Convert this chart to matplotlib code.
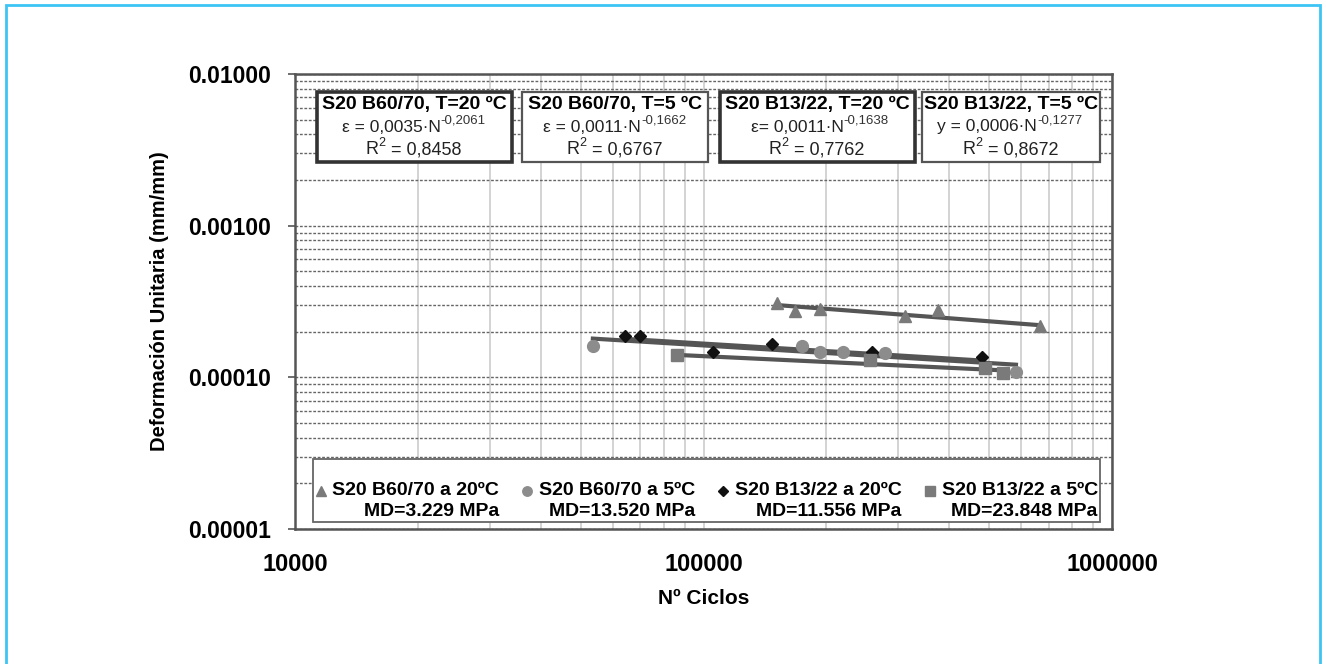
import numpy as np
import matplotlib.pyplot as plt
from matplotlib.lines import Line2D
from matplotlib.patches import Rectangle
from matplotlib.ticker import LogLocator, NullFormatter, FixedFormatter, FixedLocator

plt.rcParams['font.family'] = ['Liberation Sans', 'DejaVu Sans']

# fatigue test points: cycles N and unit strain
n_b6070_20 = [151000, 167500, 193000, 311000, 375000, 666000]
e_b6070_20 = [3.11e-4, 2.72e-4, 2.84e-4, 2.52e-4, 2.76e-4, 2.17e-4]

n_b6070_5 = [53600, 174200, 193000, 219600, 278000, 582000]
e_b6070_5 = [1.60e-4, 1.62e-4, 1.46e-4, 1.48e-4, 1.44e-4, 1.08e-4]

n_b1322_20 = [64200, 69900, 105500, 147000, 258500, 480000]
e_b1322_20 = [1.86e-4, 1.86e-4, 1.48e-4, 1.65e-4, 1.46e-4, 1.37e-4]

n_b1322_5 = [86100, 255600, 489000, 541000]
e_b1322_5 = [1.40e-4, 1.31e-4, 1.16e-4, 1.06e-4]

# power-law fits  eps = a * N^b
fit_a = [0.0035, 0.0011, 0.0011, 0.0006]
fit_b = [-0.2061, -0.1662, -0.1638, -0.1277]
fit_r2 = ['0,8458', '0,6767', '0,7762', '0,8672']
box_titles = ['S20 B60/70, T=20 ºC', 'S20 B60/70, T=5 ºC',
              'S20 B13/22, T=20 ºC', 'S20 B13/22, T=5 ºC']
eq_prefix = ['ε = 0,0035·N', 'ε = 0,0011·N', 'ε= 0,0011·N', 'y = 0,0006·N']
eq_exp = ['-0,2061', '-0,1662', '-0,1638', '-0,1277']

legend_names = ['S20 B60/70 a 20ºC', 'S20 B60/70 a 5ºC',
                'S20 B13/22 a 20ºC', 'S20 B13/22 a 5ºC']
legend_md = ['MD=3.229 MPa', 'MD=13.520 MPa', 'MD=11.556 MPa', 'MD=23.848 MPa']

y_ticks = [1e-5, 1e-4, 1e-3, 1e-2]
y_tick_labels = ['0.00001', '0.00010', '0.00100', '0.01000']
x_ticks = [1e4, 1e5, 1e6]
x_tick_labels = ['10000', '100000', '1000000']

series = [
    (n_b6070_20, e_b6070_20, '^', '#7a7a7a', 9),
    (n_b6070_5, e_b6070_5, 'o', '#8c8c8c', 8.5),
    (n_b1322_20, e_b1322_20, 'D', '#111111', 6.5),
    (n_b1322_5, e_b1322_5, 's', '#7a7a7a', 8.5),
]

fig = plt.figure(figsize=(13.26, 6.64), dpi=100)
ax = fig.add_axes([295 / 1326, 135 / 664, 817 / 1326, 455 / 664])

ax.set_xscale('log')
ax.set_yscale('log')
ax.set_xlim(1e4, 1e6)
ax.set_ylim(1e-5, 1e-2)

# grid: light solid verticals, dashed horizontals
ax.xaxis.set_minor_locator(LogLocator(base=10, subs=np.arange(2, 10)))
ax.yaxis.set_minor_locator(LogLocator(base=10, subs=np.arange(2, 10)))
ax.xaxis.set_minor_formatter(NullFormatter())
ax.yaxis.set_minor_formatter(NullFormatter())
ax.grid(True, axis='x', which='both', color='#d0d0d0', lw=1.3, ls='-')
ax.grid(True, axis='y', which='both', color='#666666', lw=1.0, ls=(0, (2, 1.2)))
ax.set_axisbelow(True)

ax.yaxis.set_major_locator(FixedLocator(y_ticks))
ax.yaxis.set_major_formatter(FixedFormatter(y_tick_labels))
ax.xaxis.set_major_locator(FixedLocator(x_ticks))
ax.xaxis.set_major_formatter(FixedFormatter(x_tick_labels))
ax.tick_params(axis='both', which='minor', length=0)
ax.tick_params(axis='x', which='major', length=0, pad=17, labelsize=17)
ax.tick_params(axis='y', which='major', length=5, width=1.2, color='#555555',
               pad=12, labelsize=16.5)
for lab in ax.get_xticklabels() + ax.get_yticklabels():
    lab.set_fontweight('bold')

for sp in ax.spines.values():
    sp.set_color('#555555')
    sp.set_linewidth(1.8)

handles = []
for (n, e, mk, col, ms), a, b in zip(series, fit_a, fit_b):
    ax.plot(n, e, ls='none', marker=mk, color=col, ms=ms, zorder=4)
    nn = np.geomspace(min(n), max(n), 50)
    ax.plot(nn, a * nn ** b, color='#555555', lw=3, zorder=3)
    handles.append(Line2D([], [], ls='none', marker=mk, color=col, ms=ms * 0.8))

# blank first line keeps the marker level with the series name
labels = ['\n' + nm + '\n' + md for nm, md in zip(legend_names, legend_md)]
leg = ax.legend(handles, labels, ncol=4, loc='lower left',
                bbox_to_anchor=(0.022, 0.015, 0.963, 0.15), mode='expand',
                borderaxespad=0, fancybox=False, framealpha=1,
                edgecolor='#666666', prop={'weight': 'bold', 'size': 14},
                handlelength=0.6, handletextpad=0.3, borderpad=0.1,
                columnspacing=0.5, labelspacing=0.1)
leg.get_frame().set_linewidth(1.3)
for t in leg.get_texts():
    t.set_multialignment('right')
    t.set_linespacing(1.3)

# fit annotation boxes along the top
box_x = [317, 522, 720, 922]
box_w = [195, 186, 195, 178]
box_lw = [2.6, 1.6, 2.6, 1.6]
box_ec = ['#333333', '#555555', '#333333', '#555555']
for i in range(4):
    x0 = (box_x[i] - 295) / 817
    w = box_w[i] / 817
    y0 = (529 - 162) / 455
    h = 70 / 455
    ax.add_patch(Rectangle((x0, y0), w, h, transform=ax.transAxes,
                           facecolor='white', edgecolor=box_ec[i],
                           lw=box_lw[i], zorder=5))
    cx = x0 + w / 2
    ax.text(cx, (529 - 104) / 455, box_titles[i], transform=ax.transAxes,
            ha='center', va='center', fontsize=14, fontweight='bold',
            zorder=6)
    eq = ax.text(cx + 26 / 817, (529 - 127) / 455, eq_prefix[i],
                 transform=ax.transAxes, ha='right', va='center',
                 fontsize=12.5, color='#222222', zorder=6)
    ax.annotate(eq_exp[i], xy=(1, 0.55), xycoords=eq, ha='left', va='bottom',
                fontsize=9.5, color='#333333', zorder=6)
    r2 = ax.text(cx - 36 / 817, (529 - 150) / 455, 'R', transform=ax.transAxes,
                 ha='right', va='center', fontsize=13, color='#222222',
                 zorder=6)
    ax.annotate('2', xy=(1, 0.55), xycoords=r2, ha='left', va='bottom',
                fontsize=9, color='#222222', zorder=6)
    ax.annotate('= ' + fit_r2[i], xy=(1, 0.5), xycoords=r2,
                xytext=(9, 0), textcoords='offset points', ha='left',
                va='center', fontsize=13, color='#222222', zorder=6)

ax.set_xlabel('Nº Ciclos', fontsize=15, fontweight='bold', labelpad=10)
ax.set_ylabel('Deformación Unitaria (mm/mm)', fontsize=14.5,
              fontweight='bold', labelpad=14)

# outer frame
fig.patches.append(Rectangle((6 / 1326, -0.05), 1314 / 1326, 1.05 - 5 / 664,
                             transform=fig.transFigure, fill=False,
                             edgecolor='#3cc4f5', lw=2))

fig.savefig('out.png', dpi=100)
